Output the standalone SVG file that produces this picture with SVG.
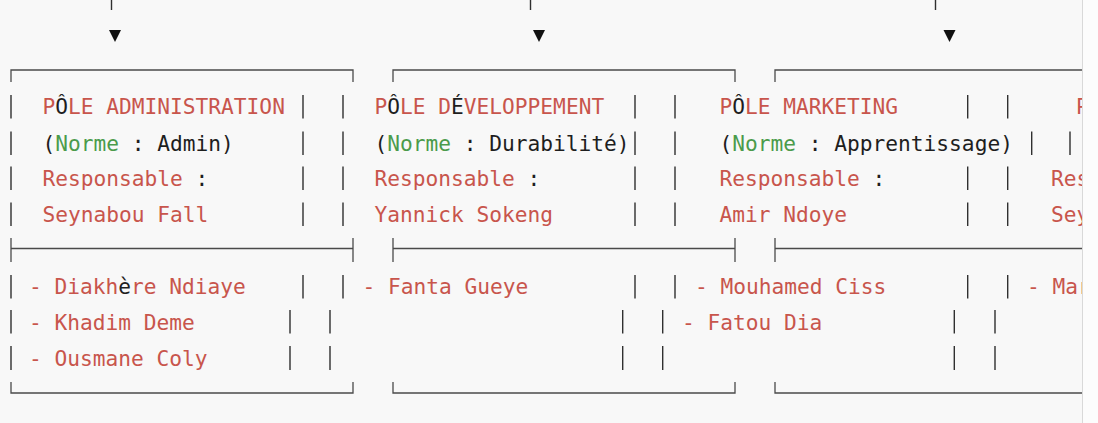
<svg xmlns="http://www.w3.org/2000/svg" width="1098" height="423" viewBox="0 0 1098 423" xml:space="preserve">
<style>
text{font-family:"DejaVu Sans Mono","Liberation Mono",monospace;font-size:21.2px;fill:#1e1e1e}
.r{fill:#c8554c}
.g{fill:#4b9b4b}
.k{fill:#1e1e1e}
.b{stroke:#303030;stroke-width:1.4;fill:none}
.h{stroke:#4a4a4a;stroke-width:1.3;fill:none}
.arr{fill:#111}
.stub{stroke:#303030;stroke-width:1.4}
</style>
<rect x="0" y="0" width="1098" height="423" fill="#f8f8f8"/>
<g id="connectors">
<line class="stub" x1="111.5" y1="0" x2="111.5" y2="10"/>
<line class="stub" x1="530.5" y1="0" x2="530.5" y2="10"/>
<line class="stub" x1="935.5" y1="0" x2="935.5" y2="10"/>
<polygon class="arr" points="109,30 121,30 115,42"/>
<polygon class="arr" points="533,30 545,30 539,42"/>
<polygon class="arr" points="943.5,30 955.5,30 949.5,42"/>
</g>
<g id="pole-administration">
<path class="h" d="M11,82V70H353V82M11,238V262M11,248.5H353M353,238V262M11,382V393H353V382"/>
<path class="b" d="M11,95V118.5M303,95V118.5M11,131.5V155M303,131.5V155M11,166.5V190M303,166.5V190M11,202.5V226M303,202.5V226M11,275V298.5M303,275V298.5M11,310V333.5M290,310V333.5M11,346V370M290,346V370"/>
<text x="42.5" y="114"><tspan class="r">P</tspan><tspan class="k">Ô</tspan><tspan class="r">LE ADMINISTRATION</tspan></text>
<text x="42.5" y="150.5"><tspan class="k">(</tspan><tspan class="g">Norme</tspan><tspan class="k"> : Admin)</tspan></text>
<text x="42.5" y="185.5"><tspan class="r">Responsable</tspan><tspan class="k"> :</tspan></text>
<text x="42.5" y="221.5" class="r">Seynabou Fall</text>
<text x="29" y="294"><tspan class="r">- Diakh</tspan><tspan class="k">è</tspan><tspan class="r">re Ndiaye</tspan></text>
<text x="29" y="330" class="r">- Khadim Deme</text>
<text x="29" y="366" class="r">- Ousmane Coly</text>
</g>
<g id="pole-developpement">
<path class="h" d="M393,82V70H735V82M393,238V262M393,248.5H735M735,238V262M393,382V393H735V382"/>
<path class="b" d="M343,95V118.5M635,95V118.5M343,131.5V155M635,131.5V155M343,166.5V190M635,166.5V190M343,202.5V226M635,202.5V226M343,275V298.5M635,275V298.5M330,310V333.5M622.7,310V333.5M330,346V370M622.7,346V370"/>
<text x="374.5" y="114"><tspan class="r">P</tspan><tspan class="k">Ô</tspan><tspan class="r">LE D</tspan><tspan class="k">É</tspan><tspan class="r">VELOPPEMENT</tspan></text>
<text x="374.5" y="150.5"><tspan class="k">(</tspan><tspan class="g">Norme</tspan><tspan class="k"> : Durabilité)</tspan></text>
<text x="374.5" y="185.5"><tspan class="r">Responsable</tspan><tspan class="k"> :</tspan></text>
<text x="374.5" y="221.5" class="r">Yannick Sokeng</text>
<text x="362.5" y="294" class="r">- Fanta Gueye</text>
</g>
<g id="pole-marketing">
<path class="h" d="M775,82V70H1098M775,238V262M775,248.5H1098M775,382V393H1098"/>
<path class="b" d="M675,95V118.5M967.7,95V118.5M675,131.5V155M1031.7,131.5V155M675,166.5V190M967.7,166.5V190M675,202.5V226M967.7,202.5V226M675,275V298.5M967.7,275V298.5M662.7,310V333.5M954.3,310V333.5M662.7,346V370M954.3,346V370"/>
<text x="719.5" y="114"><tspan class="r">P</tspan><tspan class="k">Ô</tspan><tspan class="r">LE MARKETING</tspan></text>
<text x="719.5" y="150.5"><tspan class="k">(</tspan><tspan class="g">Norme</tspan><tspan class="k"> : Apprentissage)</tspan></text>
<text x="719.5" y="185.5"><tspan class="r">Responsable</tspan><tspan class="k"> :</tspan></text>
<text x="719.5" y="221.5" class="r">Amir Ndoye</text>
<text x="695" y="294" class="r">- Mouhamed Ciss</text>
<text x="682" y="330" class="r">- Fatou Dia</text>
</g>
<g id="pole-4">
<path class="b" d="M1007.7,95V118.5M1070,131.5V155M1007.7,166.5V190M1007.7,202.5V226M1007.7,275V298.5M995,310V333.5M995,346V370"/>
<text x="1076" y="114" class="r">P</text>
<text x="1051" y="185.5" class="r">Res</text>
<text x="1051" y="221.5" class="r">Sey</text>
<text x="1027" y="294" class="r">- Mar</text>
</g>
<rect x="1082" y="0" width="16" height="423" fill="#fcfcfc"/>
<line x1="1082.5" y1="0" x2="1082.5" y2="423" stroke="#d9d9d9" stroke-width="1"/>
</svg>
